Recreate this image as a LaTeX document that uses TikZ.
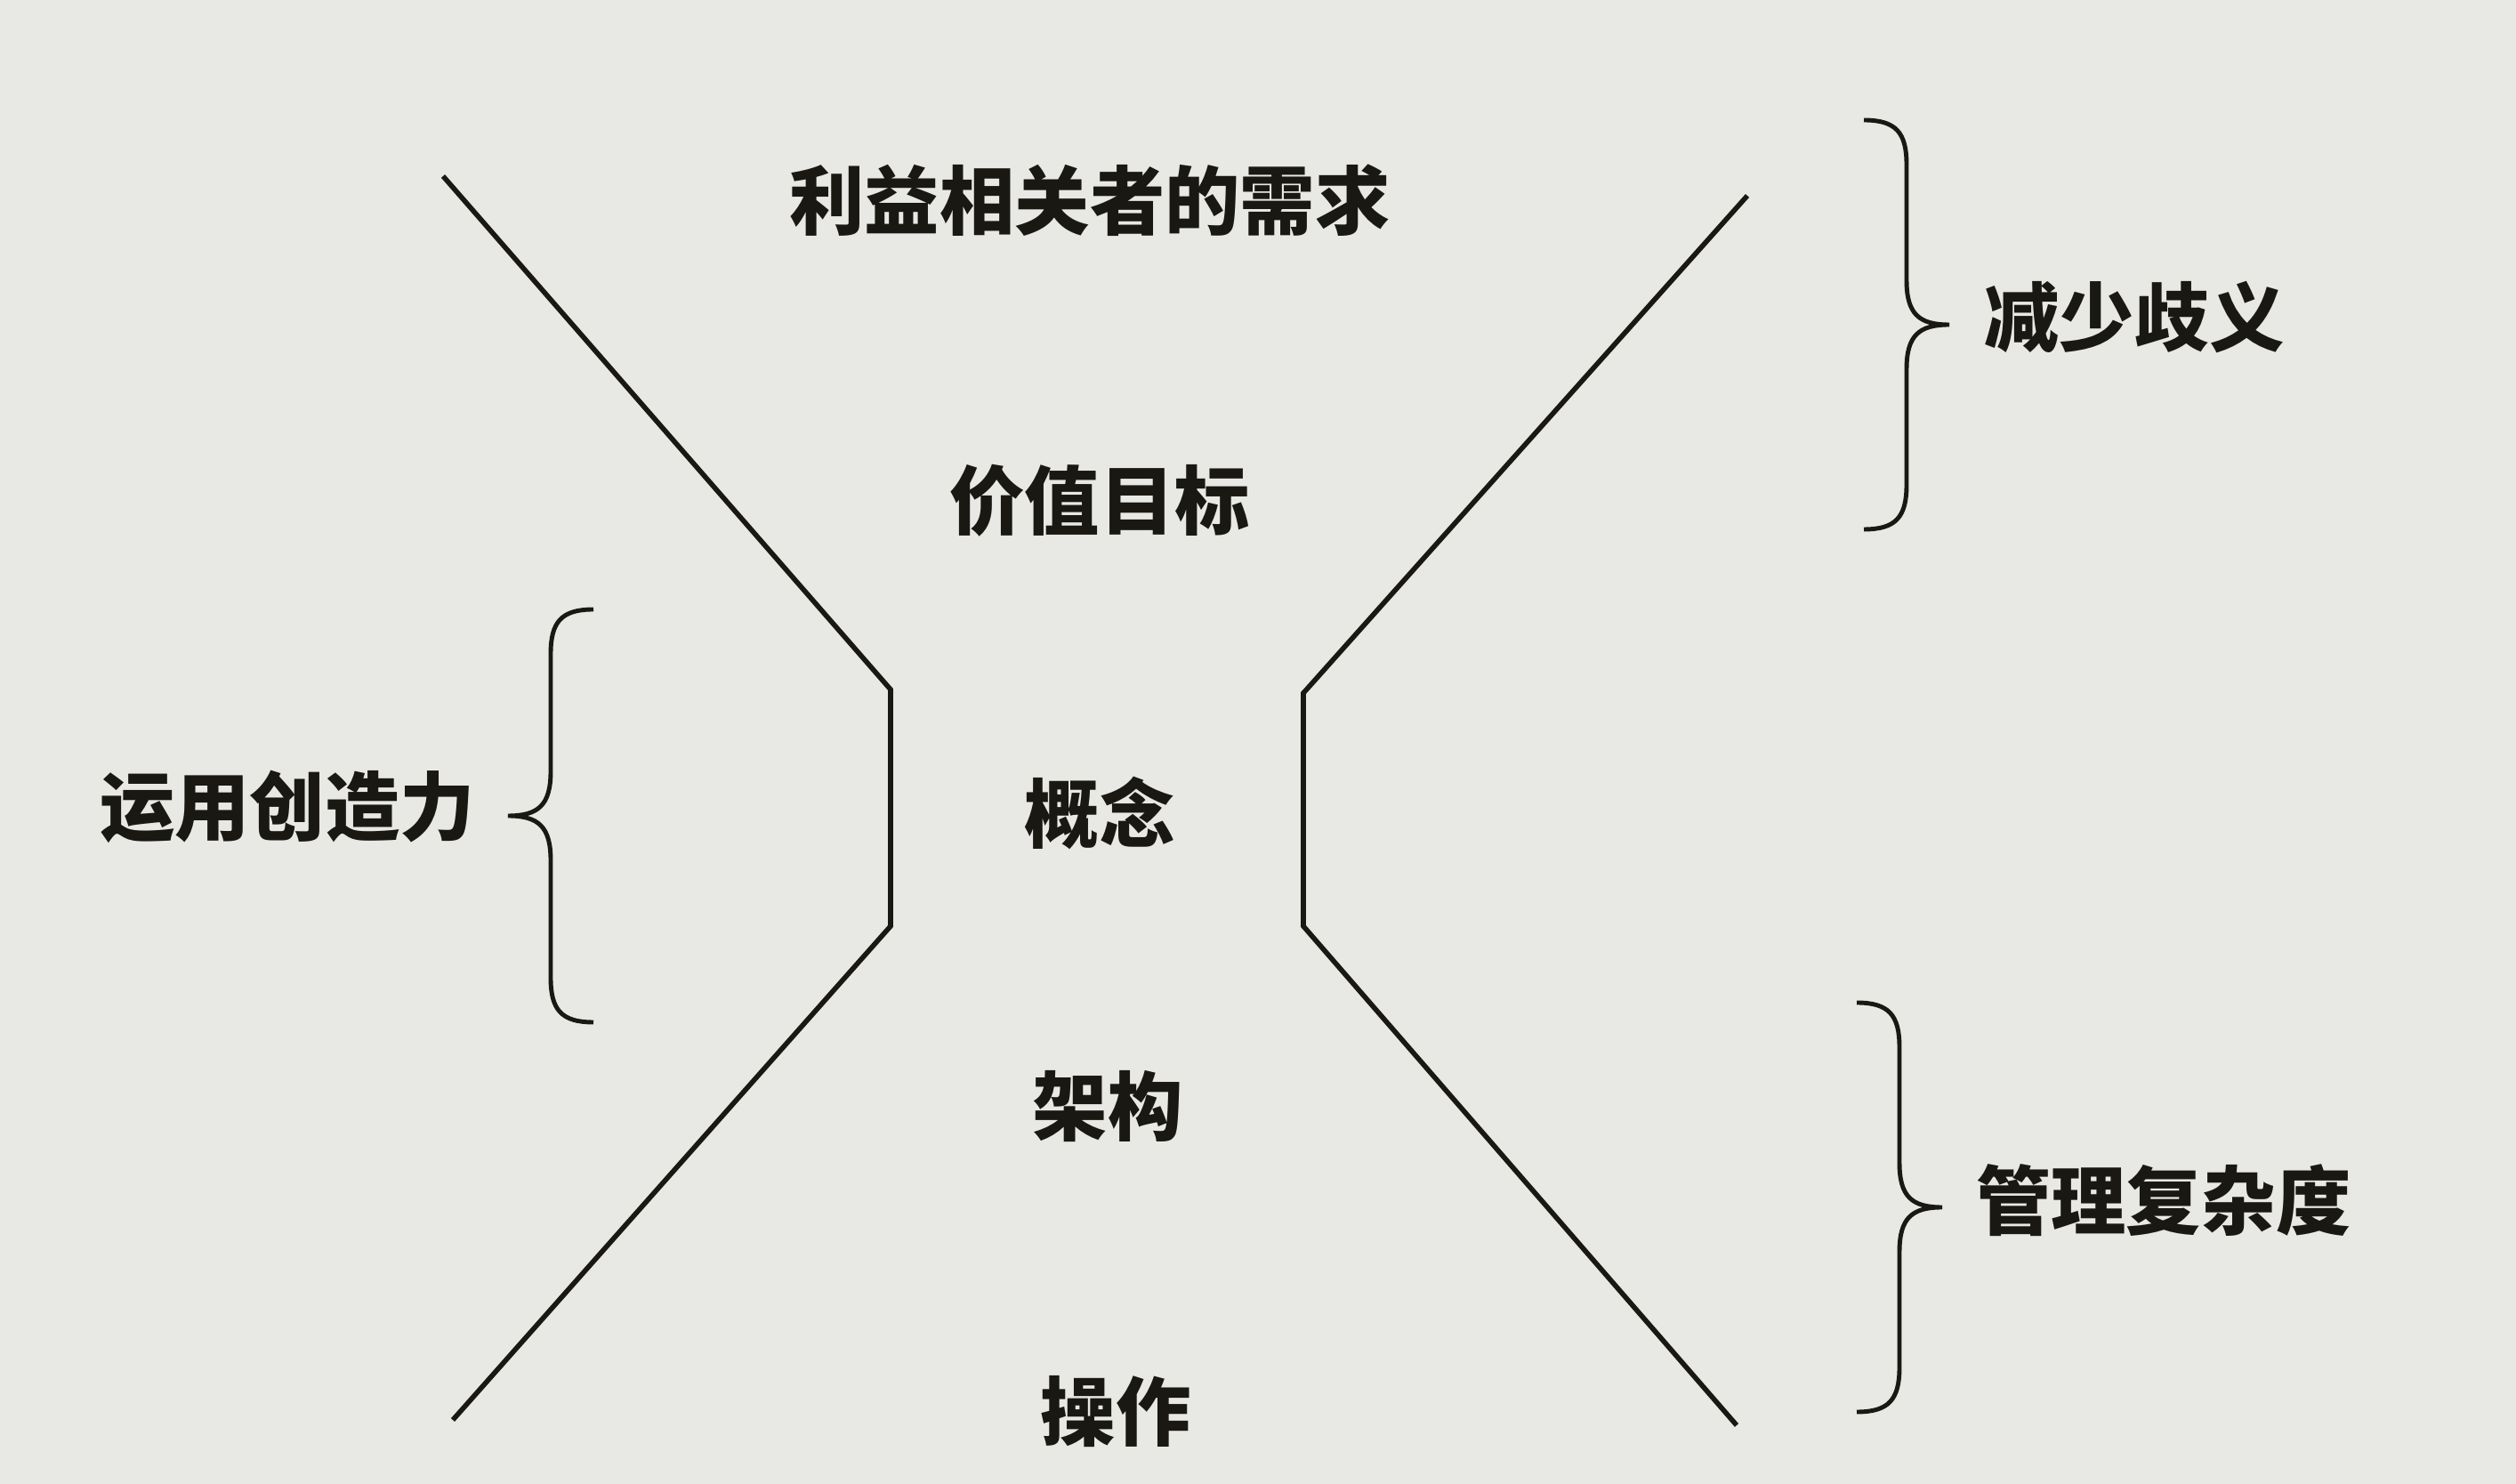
\documentclass[tikz,border=0pt]{standalone}
\usepackage{fontspec}
\newfontfamily\cjk{Noto Sans CJK SC}
\usetikzlibrary{calc}
\definecolor{paper1}{RGB}{232, 232, 229}
\definecolor{ink1}{RGB}{26, 24, 18}
\tikzset{
  pics/curly/.style={code={
    \draw[ink1, line width=1.4pt] (0,0) .. controls (0.36,0) and (0.48,-0.14) .. (0.48,-0.5)
      -- (0.48,{-#1/2+0.5}) .. controls (0.48,{-#1/2+0.12}) and (0.62,{-#1/2}) .. (0.96,{-#1/2})
      .. controls (0.62,{-#1/2}) and (0.48,{-#1/2-0.12}) .. (0.48,{-#1/2-0.5})
      -- (0.48,{-#1+0.5}) .. controls (0.48,{-#1+0.14}) and (0.36,-#1) .. (0,-#1);
  }}
}

\begin{document}
\begin{tikzpicture}[line width =1.6pt, every node/.style={font=\cjk\bfseries\fontsize{24}{28}\selectfont, text=ink1, inner sep=0pt}]
  \fill[paper1] (0,0) rectangle (28.28,16.68);
  \useasboundingbox (0,0) rectangle (28.28,16.68);
  % stages in the middle
  \node (n1) at (12.25,14.43) {利益相关者的需求};
  \node (n2) at (12.36,11.05) {价值目标};
  \node (n3) at (12.36,7.54) {概念};
  \node (n4) at (12.45,4.24) {架构};
  \node (n5) at (12.54,0.81) {操作};
  % the two sides of the funnel
  \coordinate (l1) at (4.98,14.70);
  \coordinate (l2) at (10.01,8.93);
  \coordinate (l3) at (10.01,6.27);
  \coordinate (l4) at (5.09,0.72);
  \coordinate (r1) at (19.64,14.48);
  \coordinate (r2) at (14.65,8.89);
  \coordinate (r3) at (14.65,6.27);
  \coordinate (r4) at (19.52,0.66);
  \draw[ink1] (l1) -- (l2) -- (l3) -- (l4);
  \draw[ink1] (r1) -- (r2) -- (r3) -- (r4);
  % braces and what they say
  \node (b1) at (23.99,13.11) {减少歧义};
  \node (b2) at (24.32,3.19) {管理复杂度};
  \node (b3) at (3.23,7.61) {运用创造力};
  \pic at (20.95,15.33) {curly=4.6};
  \pic at (20.87,5.41) {curly=4.6};
  \pic[xscale=-1] at (6.67,9.83) {curly=4.64};
\end{tikzpicture}
\end{document}
